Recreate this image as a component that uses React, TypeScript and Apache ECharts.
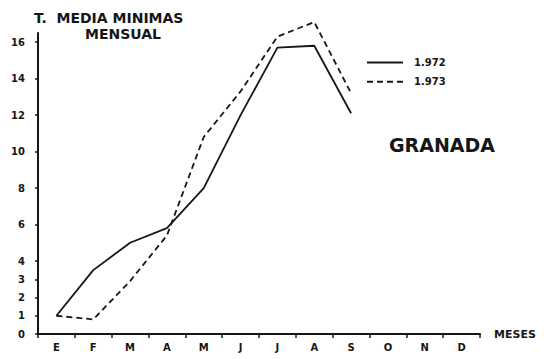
import React, { useEffect, useRef } from "react";
import * as echarts from "echarts";

// Monthly mean minimum temperature, Granada
const months = ["E", "F", "M", "A", "M", "J", "J", "A", "S", "O", "N", "D"];
const temps1972 = [1.0, 3.5, 5.0, 5.8, 8.0, 12.0, 15.7, 15.8, 12.1, null, null, null];
const temps1973 = [1.0, 0.8, 2.9, 5.4, 10.8, 13.3, 16.3, 17.1, 13.2, null, null, null];
const yTicks = [0, 1, 2, 3, 4, 6, 8, 10, 12, 14, 16];

const INK = "#161616";
const FONT = "'DejaVu Sans', sans-serif";

export default function App() {
  const ref = useRef<HTMLDivElement>(null);

  useEffect(() => {
    if (!ref.current) return;
    const chart = echarts.init(ref.current, null, { renderer: "svg" });
    chart.setOption({
      animation: false,
      backgroundColor: "#ffffff",
      grid: { left: 38, right: 64, top: 33, bottom: 25 },
      legend: {
        orient: "vertical",
        left: 366,
        top: 57,
        padding: 0,
        itemWidth: 36,
        itemHeight: 14,
        itemGap: 8,
        itemStyle: { opacity: 0 },
        data: ["1.972", "1.973"],
        textStyle: {
          color: INK,
          fontFamily: FONT,
          fontWeight: "bold",
          fontSize: 10,
          padding: [0, 0, 0, 6],
        },
      },
      xAxis: {
        type: "category",
        data: months,
        boundaryGap: true,
        name: "MESES",
        nameLocation: "end",
        nameGap: 14,
        nameTextStyle: {
          color: INK,
          fontFamily: FONT,
          fontWeight: "bold",
          fontSize: 11,
          verticalAlign: "middle",
        },
        axisLine: { lineStyle: { color: INK, width: 2 } },
        axisTick: { show: true, length: 4, lineStyle: { color: INK, width: 1.5 } },
        axisLabel: {
          color: INK,
          fontFamily: FONT,
          fontWeight: "bold",
          fontSize: 10,
          margin: 8,
        },
        splitLine: { show: false },
      },
      yAxis: {
        type: "value",
        min: 0,
        max: 16.5,
        interval: 1,
        axisLine: { show: true, lineStyle: { color: INK, width: 2 } },
        axisTick: {
          show: true,
          length: 3,
          customValues: yTicks,
          lineStyle: { color: INK, width: 1.5 },
        },
        axisLabel: {
          color: INK,
          fontFamily: FONT,
          fontWeight: "bold",
          fontSize: 10,
          margin: 13,
          customValues: yTicks,
        },
        splitLine: { show: false },
      },
      graphic: [
        {
          type: "text",
          left: 34,
          top: 11,
          style: {
            text: "T.  MEDIA MINIMAS",
            fill: INK,
            font: `bold 14px ${FONT}`,
          },
        },
        {
          type: "text",
          left: 85,
          top: 27,
          style: {
            text: "MENSUAL",
            fill: INK,
            font: `bold 14px ${FONT}`,
          },
        },
        {
          type: "text",
          left: 389,
          top: 135,
          style: {
            text: "GRANADA",
            fill: INK,
            font: `bold 19px ${FONT}`,
          },
        },
      ],
      series: [
        {
          name: "1.972",
          type: "line",
          data: temps1972,
          symbol: "none",
          clip: false,
          lineStyle: { color: INK, width: 1.8, type: "solid" },
          itemStyle: { color: INK },
        },
        {
          name: "1.973",
          type: "line",
          data: temps1973,
          symbol: "none",
          clip: false,
          lineStyle: { color: INK, width: 1.8, type: [6, 4] },
          itemStyle: { color: INK },
        },
      ],
    });
    return () => chart.dispose();
  }, []);

  return (
    <div
      ref={ref}
      style={{ position: "fixed", left: 0, top: 0, width: 544, height: 359 }}
    />
  );
}
